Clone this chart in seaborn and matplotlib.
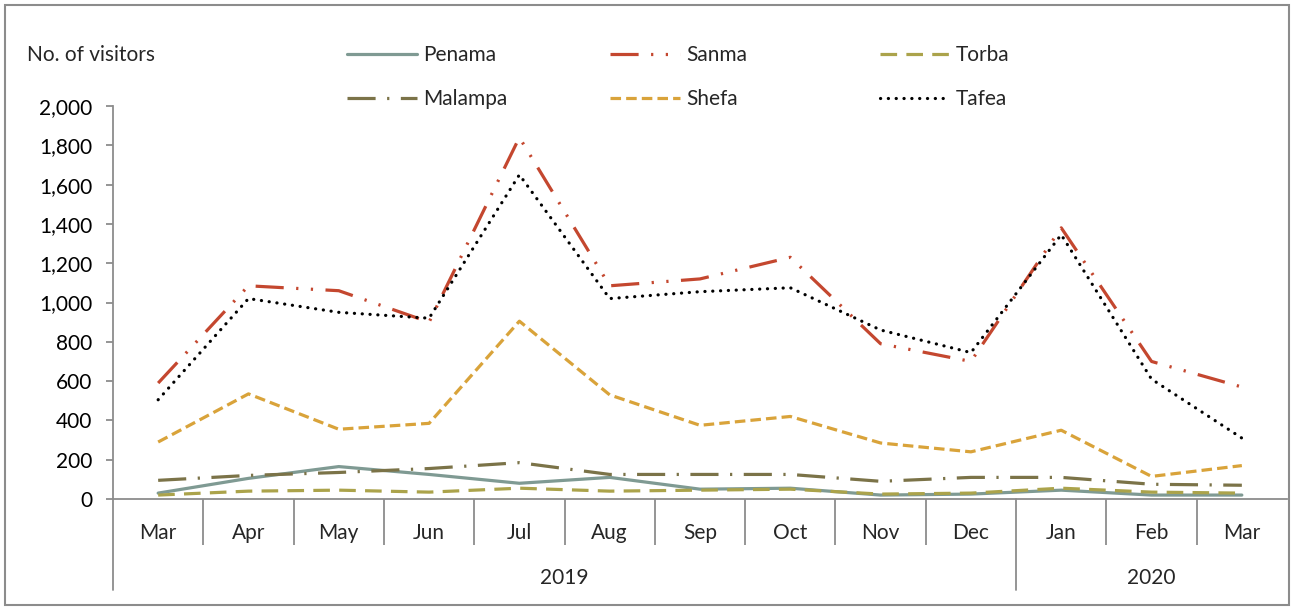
import numpy as np
import pandas as pd
import seaborn as sns
import matplotlib.pyplot as plt
from matplotlib.patches import Rectangle

months = ['Mar', 'Apr', 'May', 'Jun', 'Jul', 'Aug', 'Sep', 'Oct', 'Nov', 'Dec', 'Jan', 'Feb', 'Mar']
years = ['2019', '2020']
year_spans = [(0, 9), (10, 12)]

penama = [30, 105, 165, 125, 80, 110, 50, 55, 20, 25, 45, 20, 20]
sanma = [590, 1085, 1060, 900, 1840, 1085, 1120, 1230, 790, 700, 1380, 700, 570]
torba = [20, 40, 45, 35, 55, 40, 45, 50, 25, 30, 55, 35, 30]
malampa = [95, 120, 135, 155, 185, 125, 125, 125, 90, 110, 110, 75, 70]
shefa = [290, 535, 355, 385, 905, 530, 375, 420, 285, 240, 350, 115, 170]
tafea = [505, 1020, 950, 920, 1650, 1020, 1055, 1075, 860, 745, 1345, 610, 310]

sns.set_style('white')
plt.rcParams['font.family'] = ['Lato', 'DejaVu Sans']

series = [
    ('Penama', penama, '#7F9A93', '-', 'butt'),
    ('Sanma', sanma, '#C4472F', (0, (8.8, 3.9, 0.7, 3.9, 0.7, 3.9)), 'butt'),
    ('Torba', torba, '#ABA34B', (0, (5.2, 2.9)), 'butt'),
    ('Malampa', malampa, '#7B7348', (0, (8.8, 3.6, 0.7, 3.6)), 'butt'),
    ('Shefa', shefa, '#D9A33A', (0, (3.3, 1.6)), 'butt'),
    ('Tafea', tafea, '#000000', (0, (0.05, 2.4)), 'round'),
]

fig = plt.figure(figsize=(12.93, 6.09), dpi=100)
ax = fig.add_axes([113 / 1293, 1 - 499 / 609, 1174 / 1293, 393 / 609])

x = np.arange(len(months))
for name, vals, color, ls, cap in series:
    df = pd.DataFrame({'x': x, 'visitors': vals})
    sns.lineplot(data=df, x='x', y='visitors', ax=ax, color=color, linewidth=2.3,
                 linestyle=ls, dash_capstyle=cap, label=name, errorbar=None)

ax.set_xlim(-0.5, len(months) - 0.5)
ax.set_ylim(0, 2000)
ax.set_yticks(range(0, 2001, 200))
ax.set_yticklabels([f'{v:,}' for v in range(0, 2001, 200)])
ax.set_xlabel('')
ax.set_ylabel('')

grey = '#8C8C8C'
fs = 15
for s in ['top', 'right']:
    ax.spines[s].set_visible(False)
for s in ['left', 'bottom']:
    ax.spines[s].set_color(grey)
    ax.spines[s].set_linewidth(1.3)

ax.tick_params(axis='y', left=True, length=5, width=1.3, color=grey, pad=10,
               labelsize=fs, labelcolor='black')
ax.set_xticks(x)
ax.set_xticklabels(months)
ax.tick_params(axis='x', which='major', length=0, pad=17, labelsize=fs)
ax.set_xticks([i + 0.5 for i in range(len(months) - 1) if i != 9], minor=True)
ax.tick_params(axis='x', which='minor', bottom=True, length=33, width=1.3, color=grey)

trans = ax.get_xaxis_transform()
for xb in [-0.5, 9.5]:
    ax.plot([xb, xb], [0, -0.232], transform=trans, color=grey, lw=1.3, clip_on=False)
for yr, (a, b) in zip(years, year_spans):
    ax.text((a + b) / 2, -0.2, yr, transform=trans, ha='center', va='center', fontsize=fs)

ax.get_legend().remove()
handles, labels = ax.get_legend_handles_labels()
cols = [(347, [0, 3]), (610, [1, 4]), (880, [2, 5])]
for xpix, idx in cols:
    leg = fig.legend([handles[i] for i in idx], [labels[i] for i in idx],
                     loc='upper left', bbox_to_anchor=(xpix / 1293, 1 - 45 / 609),
                     frameon=False, fontsize=fs, handlelength=3.35, handletextpad=0.3,
                     labelspacing=1.15, borderpad=0, borderaxespad=0)

fig.text(27 / 1293, 1 - 55 / 609, 'No. of visitors', ha='left', va='center', fontsize=fs)
fig.patches.append(Rectangle((5 / 1293, 4 / 609), 1284 / 1293, 600 / 609, transform=fig.transFigure,
                             fill=False, edgecolor=grey, linewidth=1.5))

fig.savefig('out.png', dpi=100)
